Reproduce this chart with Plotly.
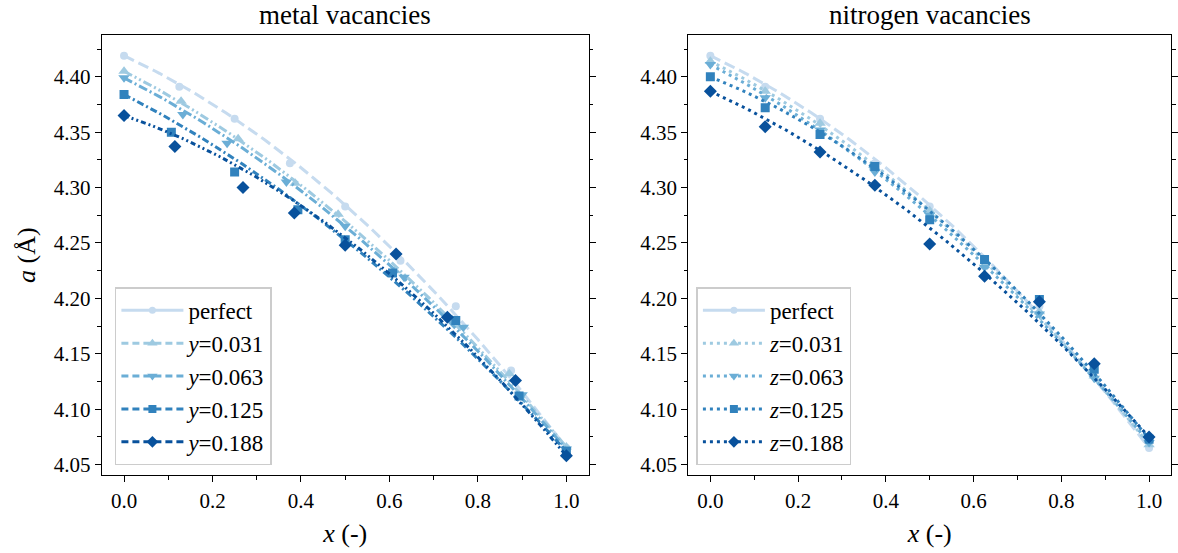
import numpy as np
import plotly.graph_objects as go

# ---------------- data ----------------
x_perfect = [0.0, 0.125, 0.25, 0.375, 0.5, 0.625, 0.75, 0.875, 1.0]
a_perfect = [4.419, 4.391, 4.362, 4.322, 4.283, 4.234, 4.193, 4.135, 4.065]

# metal vacancies (left)
x_y031 = [0.0, 0.129, 0.258, 0.387, 0.484, 0.613, 0.742, 0.871, 1.0]
a_y031 = [4.405, 4.378, 4.344, 4.304, 4.276, 4.225, 4.181, 4.132, 4.066]
x_y063 = [0.0, 0.133, 0.233, 0.367, 0.5, 0.633, 0.767, 0.9, 1.0]
a_y063 = [4.399, 4.366, 4.340, 4.305, 4.265, 4.219, 4.174, 4.113, 4.064]
x_y125 = [0.0, 0.107, 0.25, 0.393, 0.5, 0.607, 0.75, 0.893, 1.0]
a_y125 = [4.384, 4.350, 4.314, 4.280, 4.253, 4.223, 4.180, 4.112, 4.062]
x_y188 = [0.0, 0.115, 0.269, 0.385, 0.5, 0.615, 0.731, 0.885, 1.0]
a_y188 = [4.365, 4.337, 4.300, 4.277, 4.248, 4.240, 4.183, 4.126, 4.058]

# nitrogen vacancies (right)
x_z = [0.0, 0.125, 0.25, 0.375, 0.5, 0.625, 0.75, 0.875, 1.0]
a_z031 = [4.414, 4.387, 4.358, 4.318, 4.279, 4.230, 4.188, 4.130, 4.068]
a_z063 = [4.411, 4.381, 4.352, 4.314, 4.275, 4.228, 4.186, 4.128, 4.070]
a_z125 = [4.400, 4.372, 4.348, 4.319, 4.271, 4.235, 4.199, 4.136, 4.073]
a_z188 = [4.387, 4.355, 4.332, 4.302, 4.249, 4.220, 4.197, 4.141, 4.075]

labels_y = ["perfect", "<i>y</i>=0.031", "<i>y</i>=0.063", "<i>y</i>=0.125", "<i>y</i>=0.188"]
labels_z = ["perfect", "<i>z</i>=0.031", "<i>z</i>=0.063", "<i>z</i>=0.125", "<i>z</i>=0.188"]

# ---------------- style ----------------
colors = ["#c6dbef", "#9ecae1", "#6baed6", "#3182bd", "#08519c"]
symbols = ["circle", "triangle-up", "triangle-down", "square", "diamond"]
msizes = [8, 10, 10, 9, 10]
dash_left = ["11px,5px", "9px,3px,2px,3px,2px,3px", "9px,3px,2px,3px",
             "7px,3px,2px,3px", "5px,3px,2px,3px,2px,3px"]
dash_right = ["11px,5px", "3px,4px", "3px,4px", "3px,4px", "3px,4px"]
FONT = "Liberation Serif, 'Times New Roman', Times, 'DejaVu Serif', serif"

W, H = 1178, 553
def px_x(p):
    return p / W
def px_y(p):
    return 1 - p / H

fig = go.Figure()

left_series = [(x_perfect, a_perfect), (x_y031, a_y031), (x_y063, a_y063),
               (x_y125, a_y125), (x_y188, a_y188)]
right_series = [(x_perfect, a_perfect), (x_z, a_z031), (x_z, a_z063),
                (x_z, a_z125), (x_z, a_z188)]

xfit = np.linspace(0.0, 1.0, 101)

def bowing_fit(xs, ys):
    """Vegard's law with bowing, endpoints fixed to the data end points."""
    xs = np.asarray(xs); ys = np.asarray(ys)
    a0, a1 = ys[0], ys[-1]
    lin = (1 - xs) * a0 + xs * a1
    basis = xs * (1 - xs)
    b = np.sum(basis * (ys - lin)) / np.sum(basis * basis)
    return (1 - xfit) * a0 + xfit * a1 + b * xfit * (1 - xfit)

def add_panel(series, labels, dashes, xa, ya, legend):
    for i, (xs, ys) in enumerate(series):
        fig.add_trace(go.Scatter(
            x=xfit, y=bowing_fit(xs, ys), mode="lines",
            line=dict(color=colors[i], width=3, dash=dashes[i]),
            xaxis=xa, yaxis=ya, showlegend=False, hoverinfo="skip"))
        fig.add_trace(go.Scatter(
            x=xs, y=ys, mode="markers",
            marker=dict(symbol=symbols[i], size=msizes[i], color=colors[i]),
            xaxis=xa, yaxis=ya, showlegend=False))
        # legend entry (line + marker)
        if i == 0:
            ldash = "solid"
        elif legend == "legend2":
            ldash = "3px,4px"
        else:
            ldash = "7px,4px"
        fig.add_trace(go.Scatter(
            x=[None], y=[None], mode="lines+markers", name=labels[i],
            line=dict(color=colors[i], width=3, dash=ldash),
            marker=dict(symbol=symbols[i], size=msizes[i] - 1, color=colors[i]),
            xaxis=xa, yaxis=ya, showlegend=True, legend=legend))

add_panel(left_series, labels_y, dash_left, "x", "y", "legend")
add_panel(right_series, labels_z, dash_right, "x2", "y2", "legend2")

yrange = [4.0404, 4.4378]
xrange = [-0.05, 1.05]
ydom = [px_y(477), px_y(35)]

TICK = 21
LAB = 26
common_x = dict(range=xrange, showline=True, linecolor="black", linewidth=1.3,
                mirror=True, ticks="outside", ticklen=6, tickwidth=1.2, tickcolor="black",
                dtick=0.2, tick0=0, tickformat=".1f", showgrid=False, zeroline=False,
                tickfont=dict(family=FONT, size=TICK, color="black"),
                minor=dict(dtick=0.1, ticks="outside", ticklen=3.5, tickcolor="black", showgrid=False),
                title=dict(text="<i>x</i> (-)", font=dict(family=FONT, size=LAB, color="black"),
                           standoff=12))
common_y = dict(range=yrange, domain=ydom, showline=True, linecolor="black", linewidth=1.3,
                mirror="allticks", ticks="outside", ticklen=6, tickwidth=1.2, tickcolor="black",
                dtick=0.05, tick0=4.0, tickformat=".2f", showgrid=False, zeroline=False,
                tickfont=dict(family=FONT, size=TICK, color="black"),
                minor=dict(dtick=0.025, ticks="outside", ticklen=3.5, tickcolor="black", showgrid=False))

leg_common = dict(xanchor="left", yanchor="bottom",
                  bgcolor="white", bordercolor="#cccccc", borderwidth=1.5,
                  font=dict(family=FONT, size=23, color="black"), itemwidth=62,
                  tracegroupgap=0)

fig.update_layout(
    width=W, height=H,
    margin=dict(l=0, r=0, t=0, b=0),
    paper_bgcolor="white", plot_bgcolor="white",
    font=dict(family=FONT, color="black"),
    xaxis=dict(common_x, domain=[px_x(102), px_x(589)], anchor="y"),
    yaxis=dict(common_y, anchor="x",
               title=dict(text="<i>a</i> (Å)", font=dict(family=FONT, size=LAB, color="black"),
                          standoff=10)),
    xaxis2=dict(common_x, domain=[px_x(689), px_x(1172)], anchor="y2"),
    yaxis2=dict(common_y, anchor="x2"),
    legend=dict(leg_common, x=px_x(115), y=px_y(467)),
    legend2=dict(leg_common, x=px_x(697), y=px_y(467)),
    annotations=[
        dict(text="metal vacancies", x=(px_x(102) + px_x(589)) / 2, y=px_y(15),
             xref="paper", yref="paper", showarrow=False, xanchor="center", yanchor="middle",
             font=dict(family=FONT, size=27, color="black")),
        dict(text="nitrogen vacancies", x=(px_x(689) + px_x(1172)) / 2, y=px_y(15),
             xref="paper", yref="paper", showarrow=False, xanchor="center", yanchor="middle",
             font=dict(family=FONT, size=27, color="black")),
    ],
)

fig.write_html("out.html")
